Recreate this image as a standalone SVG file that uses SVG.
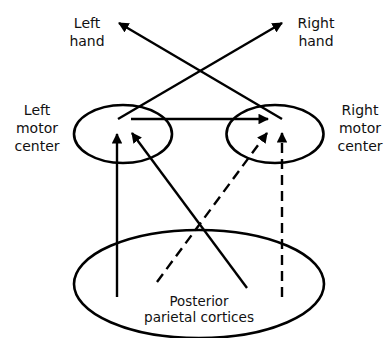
<svg xmlns="http://www.w3.org/2000/svg" width="384" height="338" viewBox="0 0 384 338">
<defs>
<style>
.n{fill:none;stroke:#000;stroke-width:2.6}
.c{fill:none;stroke:#000;stroke-width:2.4}
.d{stroke-dasharray:10 6}
text{font-family:"DejaVu Sans","Liberation Sans",sans-serif;font-size:14px;fill:#111;text-anchor:middle}
</style>
<marker id="ah" viewBox="0 0 10 10" refX="9" refY="5" markerWidth="4.4" markerHeight="4.4" orient="auto" markerUnits="strokeWidth">
<path d="M0,0 L10,5 L0,10 z" fill="#000"/>
</marker>
</defs>
<rect width="384" height="338" fill="#fff"/>
<g id="left-hand"><text x="87" y="28">Left</text><text x="87" y="46">hand</text></g>
<g id="right-hand"><text x="316" y="28">Right</text><text x="316" y="46">hand</text></g>
<g id="left-motor-center"><ellipse class="n" cx="123" cy="134" rx="49" ry="29"/><text x="37" y="115">Left</text><text x="37" y="133">motor</text><text x="37" y="151">center</text></g>
<g id="right-motor-center"><ellipse class="n" cx="275" cy="134" rx="48.5" ry="29"/><text x="360" y="115">Right</text><text x="360" y="133">motor</text><text x="360" y="151">center</text></g>
<g id="posterior-parietal-cortices"><ellipse class="n" cx="199" cy="284" rx="125" ry="54"/><text x="199" y="306" textLength="59" lengthAdjust="spacingAndGlyphs">Posterior</text><text x="199" y="322" textLength="110" lengthAdjust="spacingAndGlyphs">parietal cortices</text></g>
<g id="connectors">
<line class="c" x1="282" y1="119" x2="119" y2="23" marker-end="url(#ah)"/>
<line class="c" x1="118" y1="119" x2="282" y2="23" marker-end="url(#ah)"/>
<line class="c" x1="131" y1="119" x2="268" y2="119" marker-end="url(#ah)"/>
<line class="c" x1="117" y1="297" x2="117" y2="134" marker-end="url(#ah)"/>
<line class="c" x1="247" y1="288" x2="132" y2="133" marker-end="url(#ah)"/>
<line class="c d" x1="157" y1="282" x2="267" y2="133" marker-end="url(#ah)"/>
<line class="c d" x1="282" y1="297" x2="282" y2="133" marker-end="url(#ah)"/>
</g>
</svg>
